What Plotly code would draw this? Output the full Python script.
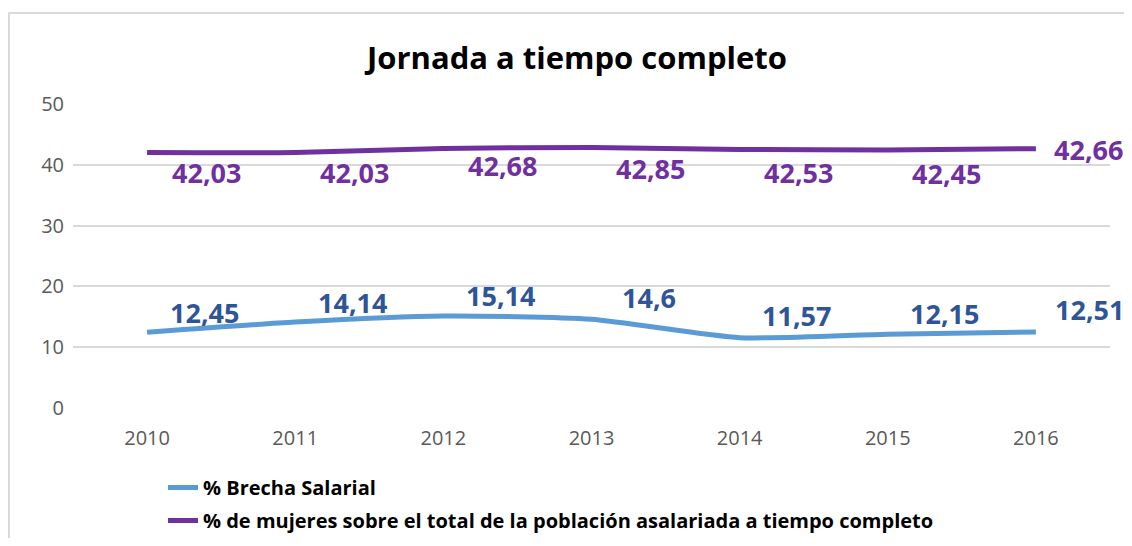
import plotly.graph_objects as go

years = ["2010", "2011", "2012", "2013", "2014", "2015", "2016"]
brecha = [12.45, 14.14, 15.14, 14.6, 11.57, 12.15, 12.51]
mujeres = [42.03, 42.03, 42.68, 42.85, 42.53, 42.45, 42.66]
name_brecha = "% Brecha Salarial"
name_mujeres = "% de mujeres sobre el total de la población asalariada a tiempo completo"

BLUE = "#5B9BD5"
BLUE_TXT = "#2F5597"
PURPLE = "#7030A0"
FONT = "Open Sans"

# page body has an 8px margin, so figure coordinates are page coordinates minus 8
W, H = 1116, 530
L, R, T, B = 65, 14, 96, 130
PW, PH = W - L - R, H - T - B
BOT = H - B  # plot bottom in figure pixels

def fmt(v):
    s = f"{v:.2f}".rstrip("0").rstrip(".")
    return s.replace(".", ",")

fig = go.Figure()
fig.add_trace(go.Scatter(x=years, y=brecha, mode="lines", name=name_brecha,
                         line=dict(color=BLUE, width=5, shape="spline", smoothing=0.6),
                         legendgroup="a"))
fig.add_trace(go.Scatter(x=years, y=mujeres, mode="lines", name=name_mujeres,
                         line=dict(color=PURPLE, width=5, shape="spline", smoothing=0.6),
                         legendgroup="b"))

# data labels (label placement offsets in pixels)
purple_dy = [-20, -20, -17, -21, -23, -24, -1]
blue_dy = [20, 20, 20, 22, 22, 21, 22]
purple_dx = [59, 59, 59, 59, 59, 59, 53]
blue_dx = [57, 57, 57, 57, 57, 57, 54]
for i in range(len(years)):
    fig.add_annotation(x=i, y=mujeres[i], text=fmt(mujeres[i]), showarrow=False,
                       xshift=purple_dx[i], yshift=purple_dy[i],
                       font=dict(family=FONT, size=27, color=PURPLE, weight="bold"))
    fig.add_annotation(x=i, y=brecha[i], text=fmt(brecha[i]), showarrow=False,
                       xshift=blue_dx[i], yshift=blue_dy[i],
                       font=dict(family=FONT, size=27, color=BLUE_TXT, weight="bold"))

fig.update_layout(
    width=W, height=H,
    margin=dict(l=L, r=R, t=T, b=B, autoexpand=False),
    paper_bgcolor="white", plot_bgcolor="white",
    title=dict(text="<b>Jornada a tiempo completo</b>", x=(577 - 8) / W, xanchor="center",
               y=1 - 50 / H, yanchor="middle",
               font=dict(family=FONT, size=31, color="black")),
    xaxis=dict(type="category", range=[-0.5, len(years) - 0.5], showgrid=False,
               zeroline=False, showline=False,
               ticks="", tickfont=dict(family=FONT, size=20, color="#595959"),
               ticklabelstandoff=16, automargin=False),
    yaxis=dict(range=[0, 50], dtick=10, showgrid=True, gridcolor="#D9D9D9", gridwidth=1.5,
               zeroline=False, showline=False, ticks="",
               tickfont=dict(family=FONT, size=20, color="#595959"),
               ticklabelstandoff=8, automargin=False),
    showlegend=True,
    legend=dict(x=(155 - L) / PW, xanchor="left", y=-(460 - BOT) / PH, yanchor="top",
                orientation="v", traceorder="grouped", tracegroupgap=4,
                font=dict(family=FONT, size=20, color="black", weight="bold"),
                bgcolor="rgba(0,0,0,0)"),
    shapes=[dict(type="rect", xref="paper", yref="paper",
                 x0=(1 - L) / PW, x1=(W + 20 - L) / PW,
                 y0=-(560 - BOT) / PH, y1=(BOT - 5) / PH,
                 line=dict(color="#D9D9D9", width=2), fillcolor="rgba(0,0,0,0)", layer="below")],
)

fig.write_html("out.html")
